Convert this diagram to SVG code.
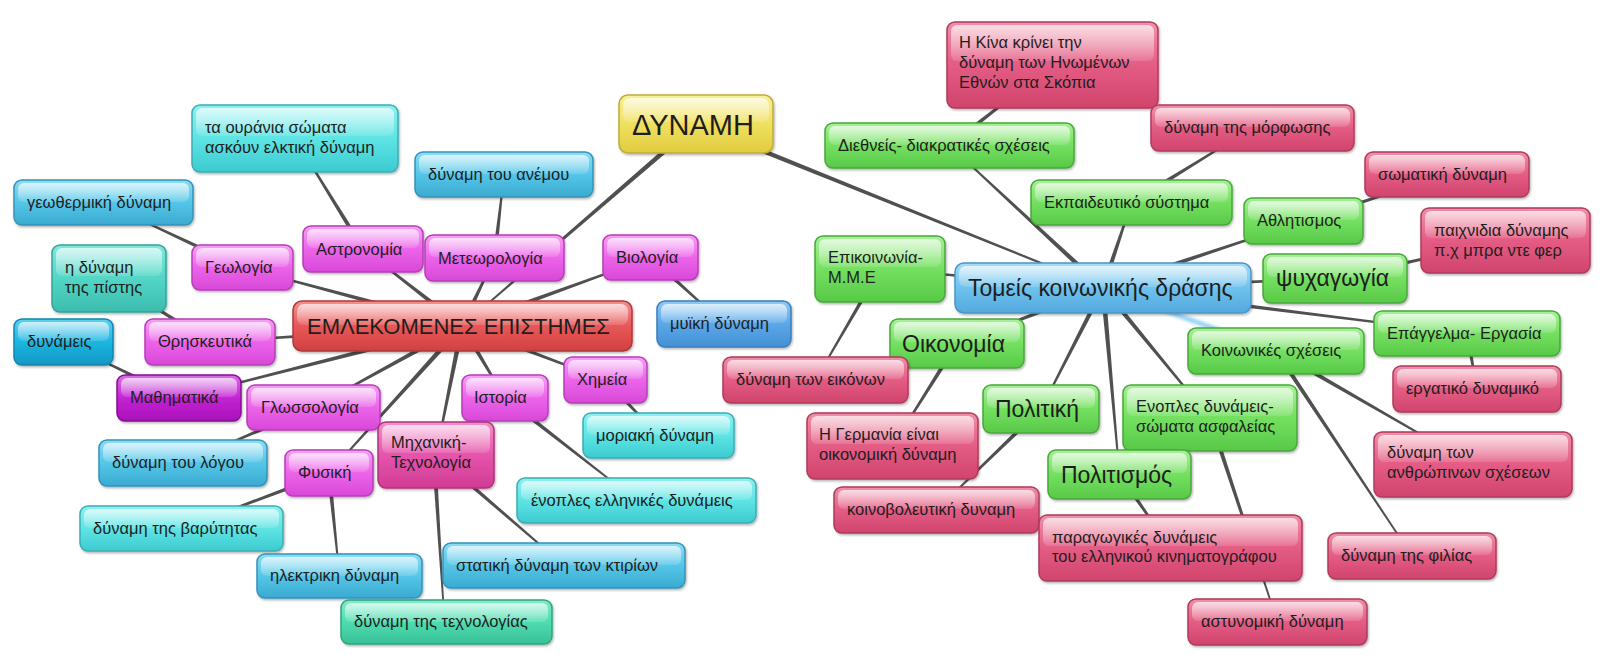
<svg xmlns="http://www.w3.org/2000/svg" width="1600" height="655" viewBox="0 0 1600 655">
<defs>
<filter id="sh" x="-10%" y="-20%" width="120%" height="150%"><feDropShadow dx="1" dy="1.5" stdDeviation="1.2" flood-color="#000" flood-opacity="0.3"/></filter>
<filter id="blur" x="-20%" y="-50%" width="140%" height="200%"><feGaussianBlur stdDeviation="1.6"/></filter>
<linearGradient id="hl" x1="0" y1="0" x2="0" y2="1"><stop offset="0" stop-color="#fff" stop-opacity="0.7"/><stop offset="1" stop-color="#fff" stop-opacity="0.12"/></linearGradient>
<linearGradient id="g-cyan" x1="0" y1="0" x2="0" y2="1"><stop offset="0" stop-color="#8ff0f0"/><stop offset="0.5" stop-color="#5ee4e4"/><stop offset="1" stop-color="#3ccbd0"/></linearGradient>
<linearGradient id="g-sky" x1="0" y1="0" x2="0" y2="1"><stop offset="0" stop-color="#8cdcf4"/><stop offset="0.5" stop-color="#55c6e8"/><stop offset="1" stop-color="#3aaad0"/></linearGradient>
<linearGradient id="g-teal" x1="0" y1="0" x2="0" y2="1"><stop offset="0" stop-color="#80e8dc"/><stop offset="0.5" stop-color="#52d6c6"/><stop offset="1" stop-color="#3cbcae"/></linearGradient>
<linearGradient id="g-sea" x1="0" y1="0" x2="0" y2="1"><stop offset="0" stop-color="#80ecc8"/><stop offset="0.5" stop-color="#4fdcb0"/><stop offset="1" stop-color="#38c098"/></linearGradient>
<linearGradient id="g-deep" x1="0" y1="0" x2="0" y2="1"><stop offset="0" stop-color="#60d0f0"/><stop offset="0.5" stop-color="#1cb6e0"/><stop offset="1" stop-color="#1098c4"/></linearGradient>
<linearGradient id="g-blue" x1="0" y1="0" x2="0" y2="1"><stop offset="0" stop-color="#90c8f4"/><stop offset="0.5" stop-color="#5aa8e8"/><stop offset="1" stop-color="#4490d4"/></linearGradient>
<linearGradient id="g-mag" x1="0" y1="0" x2="0" y2="1"><stop offset="0" stop-color="#f6a0f4"/><stop offset="0.5" stop-color="#ec64ea"/><stop offset="1" stop-color="#d848d8"/></linearGradient>
<linearGradient id="g-pur" x1="0" y1="0" x2="0" y2="1"><stop offset="0" stop-color="#d870e0"/><stop offset="0.5" stop-color="#c424d4"/><stop offset="1" stop-color="#a810b8"/></linearGradient>
<linearGradient id="g-pm" x1="0" y1="0" x2="0" y2="1"><stop offset="0" stop-color="#f090c8"/><stop offset="0.5" stop-color="#e654ac"/><stop offset="1" stop-color="#d03c94"/></linearGradient>
<linearGradient id="g-red" x1="0" y1="0" x2="0" y2="1"><stop offset="0" stop-color="#f49090"/><stop offset="0.5" stop-color="#e85858"/><stop offset="1" stop-color="#d24040"/></linearGradient>
<linearGradient id="g-yel" x1="0" y1="0" x2="0" y2="1"><stop offset="0" stop-color="#f8f09a"/><stop offset="0.5" stop-color="#f0e060"/><stop offset="1" stop-color="#e0cc40"/></linearGradient>
<linearGradient id="g-grn" x1="0" y1="0" x2="0" y2="1"><stop offset="0" stop-color="#a8f098"/><stop offset="0.5" stop-color="#74e060"/><stop offset="1" stop-color="#58c848"/></linearGradient>
<linearGradient id="g-lb" x1="0" y1="0" x2="0" y2="1"><stop offset="0" stop-color="#a8dcf6"/><stop offset="0.5" stop-color="#6ec2ee"/><stop offset="1" stop-color="#54a8dc"/></linearGradient>
<linearGradient id="g-pink" x1="0" y1="0" x2="0" y2="1"><stop offset="0" stop-color="#f090a8"/><stop offset="0.5" stop-color="#e45c84"/><stop offset="1" stop-color="#d0446c"/></linearGradient>
</defs>
<style>
.b{stroke-width:1.5;filter:url(#sh)}
.hl{fill:url(#hl)}
text{font-family:"Liberation Sans",Arial,sans-serif;font-size:16.5px;fill:#1e1e1e}
.lg{font-size:23px}
.c polygon{fill:#505050}
.cyan{fill:url(#g-cyan);stroke:#3aaeb4}
.sky{fill:url(#g-sky);stroke:#3592b8}
.teal{fill:url(#g-teal);stroke:#34a498}
.sea{fill:url(#g-sea);stroke:#30a482}
.deep{fill:url(#g-deep);stroke:#0c88b0}
.blue{fill:url(#g-blue);stroke:#3a7ebc}
.mag{fill:url(#g-mag);stroke:#b83cb8}
.pur{fill:url(#g-pur);stroke:#8a0c98}
.pm{fill:url(#g-pm);stroke:#b0327c}
.red{fill:url(#g-red);stroke:#b03838}
.yel{fill:url(#g-yel);stroke:#c0ac30}
.grn{fill:url(#g-grn);stroke:#48a83a}
.lb{fill:url(#g-lb);stroke:#4a96c8}
.pink{fill:url(#g-pink);stroke:#b03a5c}
</style>
<rect width="1600" height="655" fill="#fff"/>
<g id="connectors" class="c">
<polygon points="694.4,122.1 461.5,325.4 462.5,326.6 697.6,125.9"/>
<polygon points="695.1,126.3 1102.7,288.7 1103.3,287.3 696.9,121.7"/>
<polygon points="463.5,324 363.5,248.4 362.5,249.6 460.5,328"/>
<polygon points="462.6,323.6 242.7,266.7 242.3,268.3 461.4,328.4"/>
<polygon points="464.3,327.1 495.2,258.3 493.8,257.7 459.7,324.9"/>
<polygon points="462.9,328.4 650.8,258.3 650.2,256.8 461.1,323.6"/>
<polygon points="461.8,323.5 210,341.2 210,342.8 462.2,328.5"/>
<polygon points="461.4,323.6 178.8,397.2 179.2,398.8 462.6,328.4"/>
<polygon points="460.8,323.8 313.1,406.8 313.9,408.2 463.2,328.2"/>
<polygon points="460.1,324.3 328.4,472.5 329.6,473.5 463.9,327.7"/>
<polygon points="459.5,325.5 435.2,454.8 436.8,455.2 464.5,326.5"/>
<polygon points="459.9,327.3 504.3,398.4 505.7,397.6 464.1,324.7"/>
<polygon points="461.1,328.3 605.2,380.7 605.8,379.3 462.9,323.7"/>
<polygon points="364.9,247.8 295.6,138.1 294.4,138.9 361.1,250.2"/>
<polygon points="243.4,265.5 103.8,201.9 103.2,203.1 241.6,269.5"/>
<polygon points="496.7,258.3 504.7,174.6 503.3,174.4 492.3,257.8"/>
<polygon points="211.2,340.1 109.4,277.9 108.6,279.1 208.8,343.9"/>
<polygon points="180,396 63.8,341.4 63.2,342.6 178,400"/>
<polygon points="649,259.1 723.5,324.5 724.5,323.5 652,255.9"/>
<polygon points="603.9,381.5 658,436 659,435 607.1,378.5"/>
<polygon points="503.6,399.7 636.1,501.1 636.9,499.9 506.4,396.3"/>
<polygon points="312.6,405.5 182.7,462.4 183.3,463.6 314.4,409.5"/>
<polygon points="328.2,470.9 181.3,527.8 181.8,529.2 329.8,475.1"/>
<polygon points="326.8,473.2 338.8,576.1 340.2,575.9 331.2,472.8"/>
<polygon points="431.8,455.1 443.8,622 445.2,622 436.2,454.9"/>
<polygon points="434.6,456.7 563.5,566 564.5,565 437.4,453.3"/>
<polygon points="1104.7,286.2 950,144.9 949,146.1 1101.3,289.8"/>
<polygon points="1105.4,288.8 1132.3,202.8 1130.7,202.3 1100.6,287.2"/>
<polygon points="1103.8,290.4 1303.8,221.8 1303.3,220.2 1102.2,285.6"/>
<polygon points="1103.1,290.5 1335,279.3 1335,277.7 1102.9,285.5"/>
<polygon points="1103.2,285.5 880.1,268.2 879.9,269.8 1102.8,290.5"/>
<polygon points="1102.1,285.7 956.7,342.8 957.3,344.3 1103.9,290.3"/>
<polygon points="1100.8,286.9 1040.3,408.6 1041.7,409.4 1105.2,289.1"/>
<polygon points="1100.5,288.2 1118.7,474.6 1120.3,474.4 1105.5,287.8"/>
<polygon points="1101.1,289.6 1209.4,418.5 1210.6,417.5 1104.9,286.4"/>
<polygon points="1102.7,290.5 1466.9,334.3 1467.1,332.7 1103.3,285.5"/>
<polygon points="950.9,147.2 1052.9,65.6 1052.1,64.5 948.1,143.8"/>
<polygon points="1132.7,204.4 1252.9,128.6 1252.1,127.4 1130.4,200.6"/>
<polygon points="1304.2,223.1 1447.2,175.2 1446.8,173.8 1302.8,218.9"/>
<polygon points="1335.5,280.7 1505.7,241.2 1505.4,239.8 1334.5,276.4"/>
<polygon points="878.1,267.9 814.9,379.6 816.1,380.4 881.9,270.1"/>
<polygon points="955.1,342.3 891.9,445.6 893.1,446.4 958.9,344.7"/>
<polygon points="1039.5,407.4 936,509.5 937,510.5 1042.5,410.6"/>
<polygon points="1117.7,475.8 1169.9,548.4 1171.1,547.6 1121.3,473.3"/>
<polygon points="1207.9,418.7 1276.8,622.2 1278.2,621.8 1212.1,417.3"/>
<polygon points="1274.9,352.9 1472.7,465.1 1473.4,463.9 1277.1,349.1"/>
<polygon points="1274.2,352.2 1411.4,556.4 1412.6,555.6 1277.8,349.8"/>
<polygon points="1464.8,333.9 1476.3,389.1 1477.7,388.9 1469.2,333.1"/>
<line x1="1103" y1="288" x2="1276" y2="351" stroke="#7cc8f0" stroke-width="5" stroke-opacity="0.8" filter="url(#blur)"/>
</g>
<g id="n-dynami"><rect class="b yel" x="619" y="95" width="154" height="58" rx="9"/><rect class="hl" x="623" y="98" width="146" height="24" rx="7"/><text x="632" y="135" style="font-size:29px">ΔΥΝΑΜΗ</text></g>
<g id="n-emplekomenes"><rect class="b red" x="293" y="301" width="339" height="50" rx="9"/><rect class="hl" x="297" y="304" width="331" height="21" rx="7"/><text x="307" y="334" style="font-size:22px">ΕΜΛΕΚΟΜΕΝΕΣ ΕΠΙΣΤΗΜΕΣ</text></g>
<g id="n-ourania"><rect class="b cyan" x="192" y="105" width="206" height="67" rx="8"/><rect class="hl" x="196" y="108" width="198" height="28" rx="6"/><text x="205" y="133">τα ουράνια σώματα</text><text x="205" y="153">ασκόυν ελκτική δύναμη</text></g>
<g id="n-geothermiki"><rect class="b sky" x="14" y="180" width="179" height="45" rx="8"/><rect class="hl" x="18" y="183" width="171" height="19" rx="6"/><text x="27" y="208">γεωθερμική δύναμη</text></g>
<g id="n-geologia"><rect class="b mag" x="192" y="245" width="101" height="45" rx="8"/><rect class="hl" x="196" y="248" width="93" height="19" rx="6"/><text x="205" y="273">Γεωλογία</text></g>
<g id="n-astronomia"><rect class="b mag" x="303" y="226" width="120" height="46" rx="8"/><rect class="hl" x="307" y="229" width="112" height="19" rx="6"/><text x="316" y="255">Αστρονομία</text></g>
<g id="n-anemou"><rect class="b sky" x="415" y="152" width="178" height="45" rx="8"/><rect class="hl" x="419" y="155" width="170" height="19" rx="6"/><text x="428" y="180">δύναμη του ανέμου</text></g>
<g id="n-meteorologia"><rect class="b mag" x="425" y="235" width="139" height="46" rx="8"/><rect class="hl" x="429" y="238" width="131" height="19" rx="6"/><text x="438" y="264">Μετεωρολογία</text></g>
<g id="n-biologia"><rect class="b mag" x="603" y="235" width="95" height="45" rx="8"/><rect class="hl" x="607" y="238" width="87" height="19" rx="6"/><text x="616" y="263">Βιολογία</text></g>
<g id="n-pistis"><rect class="b teal" x="52" y="245" width="114" height="67" rx="8"/><rect class="hl" x="56" y="248" width="106" height="28" rx="6"/><text x="65" y="273">η δύναμη</text><text x="65" y="293">της πίστης</text></g>
<g id="n-dynameis"><rect class="b deep" x="14" y="319" width="99" height="46" rx="8"/><rect class="hl" x="18" y="322" width="91" height="19" rx="6"/><text x="27" y="347">δυνάμεις</text></g>
<g id="n-thriskeftika"><rect class="b mag" x="145" y="319" width="130" height="46" rx="8"/><rect class="hl" x="149" y="322" width="122" height="19" rx="6"/><text x="158" y="347">Θρησκευτικά</text></g>
<g id="n-myiki"><rect class="b blue" x="657" y="301" width="134" height="46" rx="8"/><rect class="hl" x="661" y="304" width="126" height="19" rx="6"/><text x="670" y="329">μυϊκή δύναμη</text></g>
<g id="n-mathimatika"><rect class="b pur" x="117" y="375" width="124" height="46" rx="8"/><rect class="hl" x="121" y="378" width="116" height="19" rx="6"/><text x="130" y="403">Μαθηματικά</text></g>
<g id="n-glossologia"><rect class="b mag" x="247" y="385" width="133" height="45" rx="8"/><rect class="hl" x="251" y="388" width="125" height="19" rx="6"/><text x="261" y="413">Γλωσσολογία</text></g>
<g id="n-chimeia"><rect class="b mag" x="564" y="357" width="83" height="46" rx="8"/><rect class="hl" x="568" y="360" width="75" height="19" rx="6"/><text x="577" y="385">Χημεία</text></g>
<g id="n-istoria"><rect class="b mag" x="462" y="375" width="86" height="46" rx="8"/><rect class="hl" x="466" y="378" width="78" height="19" rx="6"/><text x="474" y="403">Ιστορία</text></g>
<g id="n-moriaki"><rect class="b cyan" x="583" y="413" width="151" height="45" rx="8"/><rect class="hl" x="587" y="416" width="143" height="19" rx="6"/><text x="596" y="441">μοριακή δύναμη</text></g>
<g id="n-logou"><rect class="b sky" x="99" y="440" width="168" height="46" rx="8"/><rect class="hl" x="103" y="443" width="160" height="19" rx="6"/><text x="112" y="468">δύναμη του λόγου</text></g>
<g id="n-fysiki"><rect class="b mag" x="285" y="450" width="88" height="46" rx="8"/><rect class="hl" x="289" y="453" width="80" height="19" rx="6"/><text x="298" y="478">Φυσική</text></g>
<g id="n-michaniki"><rect class="b pm" x="378" y="422" width="116" height="66" rx="8"/><rect class="hl" x="382" y="425" width="108" height="28" rx="6"/><text x="391" y="448">Μηχανική-</text><text x="391" y="468">Τεχνολογία</text></g>
<g id="n-enoples-ell"><rect class="b cyan" x="517" y="478" width="239" height="45" rx="8"/><rect class="hl" x="521" y="481" width="231" height="19" rx="6"/><text x="531" y="506">ένοπλες ελληνικές δυνάμεις</text></g>
<g id="n-varytitas"><rect class="b cyan" x="80" y="506" width="203" height="45" rx="8"/><rect class="hl" x="84" y="509" width="195" height="19" rx="6"/><text x="93" y="534">δύναμη της βαρύτητας</text></g>
<g id="n-ilektriki"><rect class="b sky" x="257" y="554" width="165" height="44" rx="8"/><rect class="hl" x="261" y="557" width="157" height="19" rx="6"/><text x="270" y="581">ηλεκτρικη δύναμη</text></g>
<g id="n-statiki"><rect class="b sky" x="443" y="543" width="242" height="45" rx="8"/><rect class="hl" x="447" y="546" width="234" height="19" rx="6"/><text x="456" y="571">στατική δύναμη των κτιρίων</text></g>
<g id="n-technologias"><rect class="b sea" x="341" y="600" width="211" height="44" rx="8"/><rect class="hl" x="345" y="603" width="203" height="19" rx="6"/><text x="354" y="627">δύναμη της τεχνολογίας</text></g>
<g id="n-tomeis"><rect class="b lb" x="955" y="263" width="296" height="50" rx="9"/><rect class="hl" x="959" y="266" width="288" height="21" rx="7"/><text class="lg" x="968" y="296">Τομείς κοινωνικής δράσης</text></g>
<g id="n-kina"><rect class="b pink" x="947" y="22" width="211" height="86" rx="8"/><rect class="hl" x="951" y="25" width="203" height="36" rx="6"/><text x="959" y="48">Η Κίνα κρίνει την</text><text x="959" y="68">δύναμη των Ηνωμένων</text><text x="959" y="88">Εθνών στα Σκόπια</text></g>
<g id="n-diethneis"><rect class="b grn" x="825" y="123" width="249" height="45" rx="8"/><rect class="hl" x="829" y="126" width="241" height="19" rx="6"/><text x="838" y="151">Διεθνείς- διακρατικές σχέσεις</text></g>
<g id="n-morfosis"><rect class="b pink" x="1151" y="105" width="203" height="46" rx="8"/><rect class="hl" x="1155" y="108" width="195" height="19" rx="6"/><text x="1164" y="133">δύναμη της μόρφωσης</text></g>
<g id="n-ekpaideftiko"><rect class="b grn" x="1031" y="180" width="201" height="45" rx="8"/><rect class="hl" x="1035" y="183" width="193" height="19" rx="6"/><text x="1044" y="208">Εκπαιδευτικό σύστημα</text></g>
<g id="n-somatiki"><rect class="b pink" x="1365" y="152" width="164" height="45" rx="8"/><rect class="hl" x="1369" y="155" width="156" height="19" rx="6"/><text x="1378" y="180">σωματική δύναμη</text></g>
<g id="n-athlitismos"><rect class="b grn" x="1244" y="198" width="119" height="46" rx="8"/><rect class="hl" x="1248" y="201" width="111" height="19" rx="6"/><text x="1257" y="226">Αθλητισμος</text></g>
<g id="n-paichnidia"><rect class="b pink" x="1421" y="208" width="169" height="65" rx="8"/><rect class="hl" x="1425" y="211" width="161" height="27" rx="6"/><text x="1434" y="236">παιχνιδια δύναμης</text><text x="1434" y="256">π.χ μπρα ντε φερ</text></g>
<g id="n-psychagogia"><rect class="b grn" x="1263" y="254" width="144" height="49" rx="8"/><rect class="hl" x="1267" y="257" width="136" height="20" rx="6"/><text class="lg" x="1276" y="286">ψυχαγωγία</text></g>
<g id="n-epikoinonia"><rect class="b grn" x="815" y="236" width="130" height="66" rx="8"/><rect class="hl" x="819" y="239" width="122" height="28" rx="6"/><text x="828" y="263">Επικοινωνία-</text><text x="828" y="283">Μ.Μ.Ε</text></g>
<g id="n-oikonomia"><rect class="b grn" x="890" y="319" width="134" height="49" rx="8"/><rect class="hl" x="894" y="322" width="126" height="20" rx="6"/><text class="lg" x="902" y="352">Οικονομία</text></g>
<g id="n-eikonon"><rect class="b pink" x="723" y="357" width="185" height="46" rx="8"/><rect class="hl" x="727" y="360" width="177" height="19" rx="6"/><text x="736" y="385">δύναμη των εικόνων</text></g>
<g id="n-politiki"><rect class="b grn" x="983" y="385" width="116" height="48" rx="8"/><rect class="hl" x="987" y="388" width="108" height="20" rx="6"/><text class="lg" x="995" y="417">Πολιτική</text></g>
<g id="n-enoples"><rect class="b grn" x="1123" y="385" width="174" height="66" rx="8"/><rect class="hl" x="1127" y="388" width="166" height="28" rx="6"/><text x="1136" y="412">Ενοπλες δυνάμεις-</text><text x="1136" y="432">σώματα ασφαλείας</text></g>
<g id="n-germania"><rect class="b pink" x="807" y="413" width="171" height="66" rx="8"/><rect class="hl" x="811" y="416" width="163" height="28" rx="6"/><text x="819" y="440">Η Γερμανία είναι</text><text x="819" y="460">οικονομική δύναμη</text></g>
<g id="n-epaggelma"><rect class="b grn" x="1374" y="311" width="186" height="45" rx="8"/><rect class="hl" x="1378" y="314" width="178" height="19" rx="6"/><text x="1387" y="339">Επάγγελμα- Εργασία</text></g>
<g id="n-koinonikes"><rect class="b grn" x="1188" y="328" width="176" height="46" rx="8"/><rect class="hl" x="1192" y="331" width="168" height="19" rx="6"/><text x="1201" y="356">Κοινωνικές σχέσεις</text></g>
<g id="n-ergatiko"><rect class="b pink" x="1393" y="366" width="168" height="46" rx="8"/><rect class="hl" x="1397" y="369" width="160" height="19" rx="6"/><text x="1406" y="394">εργατικό δυναμικό</text></g>
<g id="n-anthropinon"><rect class="b pink" x="1374" y="432" width="198" height="65" rx="8"/><rect class="hl" x="1378" y="435" width="190" height="27" rx="6"/><text x="1387" y="458">δύναμη των</text><text x="1387" y="478">ανθρώπινων σχέσεων</text></g>
<g id="n-politismos"><rect class="b grn" x="1048" y="450" width="143" height="49" rx="8"/><rect class="hl" x="1052" y="453" width="135" height="20" rx="6"/><text class="lg" x="1061" y="483">Πολιτισμός</text></g>
<g id="n-koinovouleftiki"><rect class="b pink" x="834" y="487" width="205" height="46" rx="8"/><rect class="hl" x="838" y="490" width="197" height="19" rx="6"/><text x="847" y="515">κοινοβολευτική δυναμη</text></g>
<g id="n-paragogikes"><rect class="b pink" x="1039" y="515" width="263" height="66" rx="8"/><rect class="hl" x="1043" y="518" width="255" height="28" rx="6"/><text x="1052" y="543">παραγωγικές δυνάμεις</text><text x="1052" y="562">του ελληνικού κινηματογράφου</text></g>
<g id="n-astynomiki"><rect class="b pink" x="1188" y="599" width="179" height="46" rx="8"/><rect class="hl" x="1192" y="602" width="171" height="19" rx="6"/><text x="1201" y="627">αστυνομική δύναμη</text></g>
<g id="n-filias"><rect class="b pink" x="1328" y="533" width="168" height="46" rx="8"/><rect class="hl" x="1332" y="536" width="160" height="19" rx="6"/><text x="1341" y="561">δύναμη της φιλίας</text></g>
</svg>
